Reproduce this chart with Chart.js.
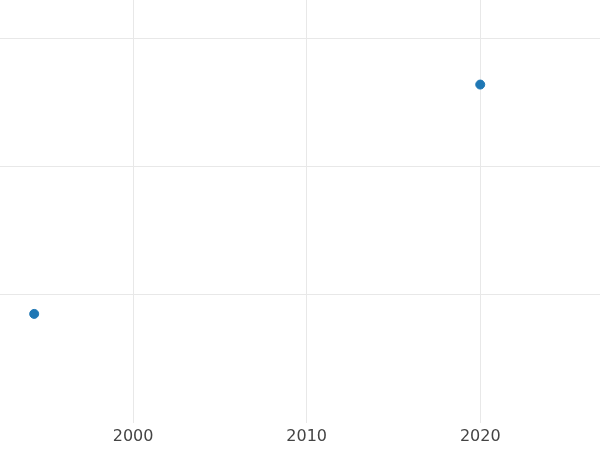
<!DOCTYPE html>
<html>
<head>
<script src="https://cdn.jsdelivr.net/npm/chart.js@4"></script>
<style>
  body { margin: 0; background: #fff; }
  #wrap { width: 600px; height: 450px; }
</style>
</head>
<body>
<div id="wrap"><canvas id="chart"></canvas></div>
<script>
const years = [1994.3, 2020.0];
const values = [0.85, 2.64];
const xTicks = [2000, 2010, 2020];
const yTicks = [1, 2, 3];

const points = years.map((x, i) => ({ x: x, y: values[i] }));

new Chart(document.getElementById("chart"), {
  type: "scatter",
  data: {
    datasets: [{
      data: points,
      backgroundColor: "#1f77b4",
      borderColor: "#1f77b4",
      pointRadius: 4.5
    }]
  },
  options: {
    responsive: true,
    maintainAspectRatio: false,
    animation: false,
    layout: { padding: 0, autoPadding: false },
    plugins: { legend: { display: false }, tooltip: { enabled: false } },
    scales: {
      x: {
        type: "linear",
        min: 1992.33,
        max: 2026.9,
        afterBuildTicks: axis => { axis.ticks = xTicks.map(v => ({ value: v })); },
        grid: { color: "#e8e8e8", drawTicks: false },
        border: { display: false },
        ticks: {
          color: "#444",
          font: { family: "DejaVu Sans", size: 16 },
          padding: 4,
          callback: v => String(v)
        }
      },
      y: {
        min: 0,
        max: 3.3,
        afterBuildTicks: axis => { axis.ticks = yTicks.map(v => ({ value: v })); },
        grid: { color: "#e8e8e8", drawTicks: false },
        border: { display: false },
        ticks: { display: false }
      }
    }
  }
});
</script>
</body>
</html>
